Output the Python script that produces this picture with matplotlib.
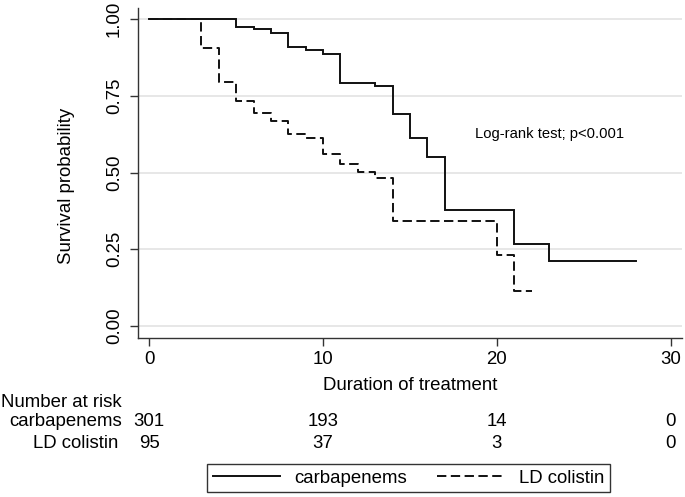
import matplotlib
matplotlib.use("Agg")
import matplotlib.pyplot as plt
import matplotlib.transforms as mtransforms

# ---- data ----
carb_t = [0, 5, 6, 7, 8, 9, 10, 11, 13, 14, 15, 16, 17, 21, 23, 28]
carb_s = [1.0, 0.974, 0.967, 0.956, 0.910, 0.899, 0.888, 0.791, 0.782,
          0.691, 0.614, 0.552, 0.377, 0.267, 0.212, 0.212]
col_t = [0, 3, 4, 5, 6, 7, 8, 9, 10, 11, 12, 13, 14, 20, 21, 22]
col_s = [1.0, 0.905, 0.794, 0.734, 0.693, 0.669, 0.625, 0.612, 0.559,
         0.527, 0.503, 0.483, 0.343, 0.231, 0.114, 0.114]
series_names = ["carbapenems", "LD colistin"]
risk_times = [0, 10, 20, 30]
risk_carb = [301, 193, 14, 0]
risk_col = [95, 37, 3, 0]
x_ticks = [0, 10, 20, 30]
y_ticks = [0.0, 0.25, 0.50, 0.75, 1.0]
y_ticklabels = ["0.00", "0.25", "0.50", "0.75", "1.00"]

plt.rcParams['font.family'] = ['Liberation Sans', 'DejaVu Sans']
FS = 13.4

W, H = 685, 497
fig = plt.figure(figsize=(W / 100, H / 100), dpi=100)
ax = fig.add_axes([137.7 / W, 1 - 338 / H, (681.7 - 137.7) / W, (338 - 8) / H])

ax.set_xlim(-0.667, 30.63)
ax.set_ylim(-0.0401, 1.0369)

for y in y_ticks:
    ax.axhline(y, color='#e3e3e3', lw=1.2, zorder=0)

lw = 1.4
l1, = ax.step(carb_t, carb_s, where='post', color='#111111', lw=lw,
              label=series_names[0], solid_joinstyle='miter')
l2, = ax.step(col_t, col_s, where='post', color='#111111', lw=lw,
              label=series_names[1], linestyle=(0, (4.8, 2.3)))

for s in ['top', 'right']:
    ax.spines[s].set_visible(False)
for s in ['left', 'bottom']:
    ax.spines[s].set_color('#333333')
    ax.spines[s].set_linewidth(1.0)

ax.set_xticks(x_ticks)
ax.set_yticks(y_ticks)
ax.set_yticklabels(y_ticklabels)
ax.tick_params(axis='both', length=5.5, width=1.0, color='#333333',
               labelsize=FS, labelcolor='black')
ax.tick_params(axis='x', pad=3.5)
ax.tick_params(axis='y', pad=5)
for lab in ax.get_yticklabels():
    lab.set_rotation(90)
    lab.set_va('center')

ax.text(18.74, 0.626, "Log-rank test; p<0.001", fontsize=10.6,
        ha='left', va='center')

blend = mtransforms.blended_transform_factory(ax.transData, fig.transFigure)
ax.text(15.0, 1 - 385.7 / H, "Duration of treatment", fontsize=FS,
        ha='center', va='center', transform=blend)
fig.text(66.7 / W, 1 - 186 / H, "Survival probability", fontsize=FS,
         rotation=90, ha='center', va='center')

# number at risk table
fig.text(1.0 / W, 1 - 402.7 / H, "Number at risk", fontsize=FS,
         ha='left', va='center')
fig.text(122 / W, 1 - 421.7 / H, series_names[0], fontsize=FS,
         ha='right', va='center')
fig.text(118 / W, 1 - 443 / H, series_names[1], fontsize=FS,
         ha='right', va='center')
for t, a, b in zip(risk_times, risk_carb, risk_col):
    ax.text(t, 1 - 421.7 / H, str(a), fontsize=FS, ha='center', va='center',
            transform=blend, clip_on=False)
    ax.text(t, 1 - 443 / H, str(b), fontsize=FS, ha='center', va='center',
            transform=blend, clip_on=False)

leg = fig.legend(handles=[l1, l2], loc='center',
                 bbox_to_anchor=(408.6 / W, 1 - 478.2 / H),
                 ncol=2, fontsize=FS, frameon=True, fancybox=False,
                 edgecolor='black', handlelength=3.6, handletextpad=0.8,
                 columnspacing=1.6, borderpad=0.3, borderaxespad=0)
leg.get_frame().set_linewidth(1.0)

fig.savefig("out.png", dpi=100)
